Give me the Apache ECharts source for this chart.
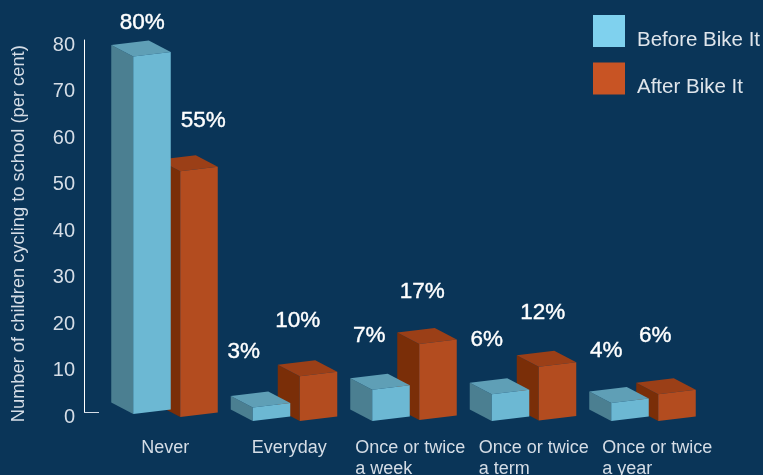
<!DOCTYPE html>
<html>
<head>
<meta charset="utf-8">
<style>html,body{margin:0;padding:0;background:#0a3558}#chart{width:763px;height:475px}</style>
<script src="https://cdn.jsdelivr.net/npm/echarts@6/dist/echarts.min.js"></script>
</head>
<body>
<div id="chart"></div>
<script>
// Survey results: how often children cycle to school, before and after Bike It
const categories = ['Never', 'Everyday', 'Once or twice\na week', 'Once or twice\na term', 'Once or twice\na year'];
const beforeValues = [80, 3, 7, 6, 4];
const afterValues = [55, 10, 17, 12, 6];
const valueTicks = { min: 0, max: 80, interval: 10 };

// Pseudo-3D box layout, in pixels
const BOX = { width: 37.5, depthX: -22, depthY: -11.5, rise: -4.5, heightScale: 0.96 };
const beforeLayout = {
  offset: -31, drop: [1.5, 8.5, 8.5, 8.5, 8.5],
  labelDx: [9, -9, -3, -5, -5], labelDy: [-34, -55.6, -53.7, -54, -52],
  front: '#6cb8d3', top: '#5f9fb6', side: '#4b7f91', swatch: '#7fd1ee'
};
const afterLayout = {
  offset: 16, drop: [4.5, 8.5, 7.5, 8, 8.5],
  labelDx: [23, -2, 3, 4, -3], labelDy: [-50, -56, -52, -54, -58],
  front: '#b34c1f', top: '#9b3f17', side: '#7a2e08', swatch: '#c85424'
};
const labelLeftEdge = [-23, -32, -48, -44, -40];

function boxRenderer(layout) {
  return function (params, api) {
    const i = api.value(0), v = api.value(1);
    const cx = api.coord([i, 0])[0];
    const y0 = api.coord([i, 0])[1];
    const h = (y0 - api.coord([i, v])[1]) * BOX.heightScale;
    const x1 = cx + layout.offset, x2 = x1 + BOX.width;
    const b1 = y0 + layout.drop[i], b2 = b1 + BOX.rise;
    const t1 = b1 - h, t2 = t1 + BOX.rise;
    const dx = BOX.depthX, dy = BOX.depthY;
    const poly = (points, fill) => ({ type: 'polygon', shape: { points }, style: { fill } });
    return {
      type: 'group',
      children: [
        poly([[x1, t1], [x1 + dx, t1 + dy], [x1 + dx, b1 + dy], [x1, b1]], layout.side),
        poly([[x1, t1], [x2, t2], [x2 + dx, t2 + dy], [x1 + dx, t1 + dy]], layout.top),
        poly([[x1, t1], [x2, t2], [x2, b2], [x1, b1]], layout.front),
        {
          type: 'text', z2: 10,
          style: {
            text: v + '%', x: x1 + layout.labelDx[i], y: t1 + layout.labelDy[i],
            fill: '#ffffff', stroke: '#ffffff', lineWidth: 0.4,
            font: '22.5px "Liberation Sans", sans-serif',
            align: 'center', verticalAlign: 'middle'
          }
        }
      ]
    };
  };
}

function categoryLabel(params, api) {
  const i = api.value(0);
  const p = api.coord([i, 0]);
  return {
    type: 'text', silent: true,
    style: {
      text: categories[i], x: p[0] + labelLeftEdge[i], y: 438,
      fill: '#d5dde6', font: '18px "Liberation Sans", sans-serif', lineHeight: 21,
      align: 'left', verticalAlign: 'top'
    }
  };
}

const chart = echarts.init(document.getElementById('chart'));
chart.setOption({
  animation: false,
  backgroundColor: '#0a3558',
  grid: { left: 104.5, right: 61, top: 40, bottom: 62.5 },
  legend: {
    data: ['Before Bike It', 'After Bike It'],
    orient: 'vertical', left: 588, top: 10,
    itemWidth: 32, itemHeight: 32, itemGap: 12, icon: 'rect',
    formatter: '{t|{name}}',
    textStyle: {
      color: '#dfe5eb', fontSize: 20.5, fontFamily: '"Liberation Sans", sans-serif',
      rich: { t: { color: '#dfe5eb', fontSize: 20.5, fontFamily: '"Liberation Sans", sans-serif', padding: [18, 0, 0, 7] } }
    }
  },
  xAxis: {
    type: 'category', data: categories,
    axisLine: { show: false }, axisTick: { show: false }, axisLabel: { show: false }
  },
  yAxis: {
    type: 'value', ...valueTicks, offset: 20.5,
    name: 'Number of children cycling to school (per cent)',
    nameLocation: 'middle', nameRotate: 90, nameGap: 56,
    nameTextStyle: { color: '#d5dde6', fontSize: 18.3, fontFamily: '"Liberation Sans", sans-serif', padding: [0, 15, 0, 0] },
    axisLine: { show: true, lineStyle: { color: '#ffffff', width: 1 } },
    axisTick: { show: true, inside: true, length: 15, customValues: [0], lineStyle: { color: '#d5dde6' } },
    axisLabel: { color: '#d5dde6', fontSize: 20, margin: 9, fontFamily: '"Liberation Sans", sans-serif', verticalAlign: 'top', lineHeight: 10 },
    splitLine: { show: false }
  },
  series: [
    {
      name: 'After Bike It', type: 'custom', clip: false, itemStyle: { color: afterLayout.swatch },
      encode: { x: 0, y: 1 }, data: afterValues.map((v, i) => [i, v]), renderItem: boxRenderer(afterLayout)
    },
    {
      name: 'Before Bike It', type: 'custom', clip: false, itemStyle: { color: beforeLayout.swatch },
      encode: { x: 0, y: 1 }, data: beforeValues.map((v, i) => [i, v]), renderItem: boxRenderer(beforeLayout)
    },
    {
      name: 'Frequency', type: 'custom', clip: false, silent: true,
      encode: { x: 0, y: 1 }, data: categories.map((c, i) => [i, 0]), renderItem: categoryLabel
    }
  ]
});
</script>
</body>
</html>
